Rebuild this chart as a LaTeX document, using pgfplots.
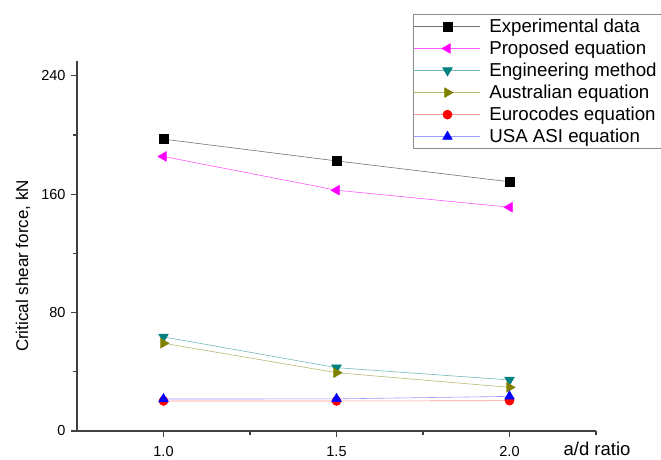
\documentclass[border=0pt]{standalone}
\usepackage{fontspec}
\setmainfont{Liberation Sans}
\usepackage{pgfplots}
\pgfplotsset{compat=1.18}
\definecolor{cTeal}{RGB}{0,128,128}
\definecolor{cOlive}{RGB}{128,128,0}
\definecolor{cMag}{RGB}{255,0,255}
\definecolor{cRed}{RGB}{255,0,0}
\definecolor{cBlue}{RGB}{0,0,255}
\begin{document}
\begin{tikzpicture}
\path[use as bounding box] (0,0) rectangle (661pt,459pt);
\begin{axis}[
  at={(77pt,28pt)}, anchor=south west,
  scale only axis, width=519pt, height=370pt,
  xmin=0.75, xmax=2.25, ymin=0, ymax=250,
  axis lines=left, axis line style={-, line width=1.3pt, color=black!75},
  xtick={1.0,1.5,2.0}, minor xtick={1.25,1.75,2.25},
  ytick={0,80,160,240}, minor ytick={40,120,200},
  tick align=outside, major tick length=6pt, minor tick length=4pt,
  tick style={line width=1.1pt, color=black!75},
  xticklabel style={/pgf/number format/fixed, /pgf/number format/fixed zerofill, /pgf/number format/precision=1, inner sep=0pt, anchor=north, yshift=-9.5pt},
  yticklabel style={xshift=-2pt},
  /pgf/number format/assume math mode=true,
  ticklabel style={font=\fontsize{14.5}{17}\selectfont},
  ylabel={Critical shear force, kN},
  ylabel style={at={(axis description cs:-0.104,0.446)}, anchor=center, font=\fontsize{17}{20}\selectfont},
  xlabel={a/d ratio},
  xlabel style={at={(axis description cs:1.002,0)}, anchor=base, yshift=-24pt, font=\fontsize{18.5}{21}\selectfont},
  clip=false,
  legend cell align=left,
  legend style={at={(axis description cs:0.647,1.127)}, anchor=north west,
    draw=black!45, line width=0.8pt, font=\fontsize{18.7}{21}\selectfont,
    inner xsep=1pt, inner ysep=2.5pt, row sep=3pt,
    nodes={inner xsep=3.5pt, inner ysep=2pt}},
  legend image code/.code={\draw[mark repeat=2,mark phase=2,#1] plot coordinates {(0pt,0pt) (33pt,0pt) (66pt,0pt)}; \path (71pt,0pt);},
]
\addplot[color=black!55, line width=0.6pt, mark=square*, mark size=4.5pt, mark options={fill=black, draw=black, solid}]
  coordinates {(1.0,197.2) (1.5,182.5) (2.0,168.4)};
\addlegendentry{Experimental data}
\addplot[color=cMag!65, line width=0.6pt, mark=triangle*, mark size=5.5pt, mark options={fill=cMag, draw=cMag, rotate=90, solid}]
  coordinates {(1.0,185.5) (1.5,162.7) (2.0,151.2)};
\addlegendentry{Proposed equation}
\addplot[color=cTeal!55, line width=0.6pt, mark=triangle*, mark size=5.5pt, mark options={fill=cTeal, draw=cTeal, rotate=180, solid}]
  coordinates {(1.0,63.6) (1.5,42.8) (2.0,34.5)};
\addlegendentry{Engineering method}
\addplot[color=cOlive!55, line width=0.6pt, mark=triangle*, mark size=5.5pt, mark options={fill=cOlive, draw=cOlive, rotate=-90, solid}]
  coordinates {(1.0,59.3) (1.5,39.4) (2.0,29.5)};
\addlegendentry{Australian equation}
\addplot[color=cRed!40, line width=0.6pt, mark=*, mark size=4.5pt, mark options={fill=cRed, draw=cRed, solid}]
  coordinates {(1.0,20.3) (1.5,20.3) (2.0,20.5)};
\addlegendentry{Eurocodes equation}
\addplot[color=cBlue!40, line width=0.6pt, mark=triangle*, mark size=5.5pt, mark options={fill=cBlue, draw=cBlue, solid}]
  coordinates {(1.0,21.6) (1.5,21.7) (2.0,23.4)};
\addlegendentry{USA ASI equation}
\end{axis}
\end{tikzpicture}
\end{document}
